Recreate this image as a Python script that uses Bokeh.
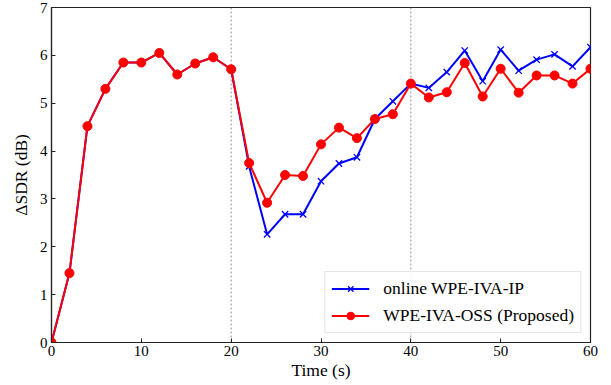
from bokeh.plotting import figure
from bokeh.models import Span, Range1d, FixedTicker
from bokeh.embed import file_html
from bokeh.resources import INLINE

time_s = [0, 2, 4, 6, 8, 10, 12, 14, 16, 18, 20, 22, 24, 26, 28, 30,
          32, 34, 36, 38, 40, 42, 44, 46, 48, 50, 52, 54, 56, 58, 60]
ip_sdr = [0.0, 1.45, 4.52, 5.30, 5.85, 5.85, 6.05, 5.60, 5.83, 5.96, 5.71,
          3.68, 2.26, 2.68, 2.68, 3.37, 3.74, 3.87, 4.67, 5.04, 5.41,
          5.32, 5.65, 6.10, 5.46, 6.12, 5.68, 5.91, 6.02, 5.77, 6.17]
oss_sdr = [0.0, 1.45, 4.52, 5.30, 5.85, 5.85, 6.05, 5.60, 5.83, 5.96, 5.71,
           3.75, 2.92, 3.50, 3.48, 4.14, 4.49, 4.27, 4.67, 4.77, 5.41,
           5.12, 5.23, 5.84, 5.14, 5.72, 5.22, 5.58, 5.58, 5.41, 5.72]
x_ticks = [0, 10, 20, 30, 40, 50, 60]
y_ticks = [0, 1, 2, 3, 4, 5, 6, 7]
switch_times = [20, 40]
label_ip = "online WPE-IVA-IP"
label_oss = "WPE-IVA-OSS (Proposed)"

FONT = "'Liberation Serif', 'Times New Roman', serif"

p = figure(width=603, height=382, output_backend="svg", toolbar_location=None,
           x_range=Range1d(0, 60), y_range=Range1d(0, 7),
           min_border_left=51, min_border_right=13, min_border_top=7, min_border_bottom=35)
p.xgrid.visible = False
p.ygrid.visible = False
p.outline_line_color = "#222222"
p.outline_line_width = 1.2
p.background_fill_color = "white"
p.border_fill_color = "white"

for t in switch_times:
    p.add_layout(Span(location=t, dimension="height", line_color="#777777",
                      line_width=0.8, line_dash="2 2", level="underlay"))

p.line(time_s, ip_sdr, line_color="blue", line_width=2, legend_label=label_ip)
p.scatter(time_s, ip_sdr, marker="x", size=9, line_color="blue", line_width=1.3,
          legend_label=label_ip)
p.line(time_s, oss_sdr, line_color="red", line_width=2, legend_label=label_oss)
p.scatter(time_s, oss_sdr, marker="circle", size=9, fill_color="red", line_color="red",
          legend_label=label_oss)

p.axis.major_label_text_font = FONT
p.axis.major_label_text_font_size = "15px"
p.axis.major_label_text_color = "black"
p.axis.axis_label_text_font = FONT
p.axis.axis_label_text_font_size = "17.5px"
p.axis.axis_label_text_font_style = "normal"
p.axis.axis_label_text_color = "black"
p.axis.major_tick_in = 4
p.axis.major_tick_out = 0
p.axis.minor_tick_line_color = None
p.axis.axis_line_color = "#222222"
p.axis.axis_line_width = 1.2
p.axis.major_tick_line_color = "#222222"

p.xaxis.ticker = FixedTicker(ticks=x_ticks)
p.yaxis.ticker = FixedTicker(ticks=y_ticks)
p.xaxis.axis_label = "Time (s)"
p.yaxis.axis_label = "ΔSDR (dB)"
p.xaxis.major_label_standoff = 3
p.xaxis.axis_label_standoff = 1
p.yaxis.major_label_standoff = 4
p.yaxis.axis_label_standoff = 6

lg = p.legend[0]
lg.location = "bottom_right"
lg.margin = 9
lg.label_text_font = FONT
lg.label_text_font_size = "17.5px"
lg.label_text_color = "black"
lg.border_line_color = "#cccccc"
lg.border_line_width = 1
lg.background_fill_alpha = 0.85
lg.glyph_width = 38
lg.glyph_height = 19
lg.label_height = 19
lg.spacing = 6
lg.padding = 6
lg.label_standoff = 14

open("out.html", "w").write(file_html(p, INLINE))
